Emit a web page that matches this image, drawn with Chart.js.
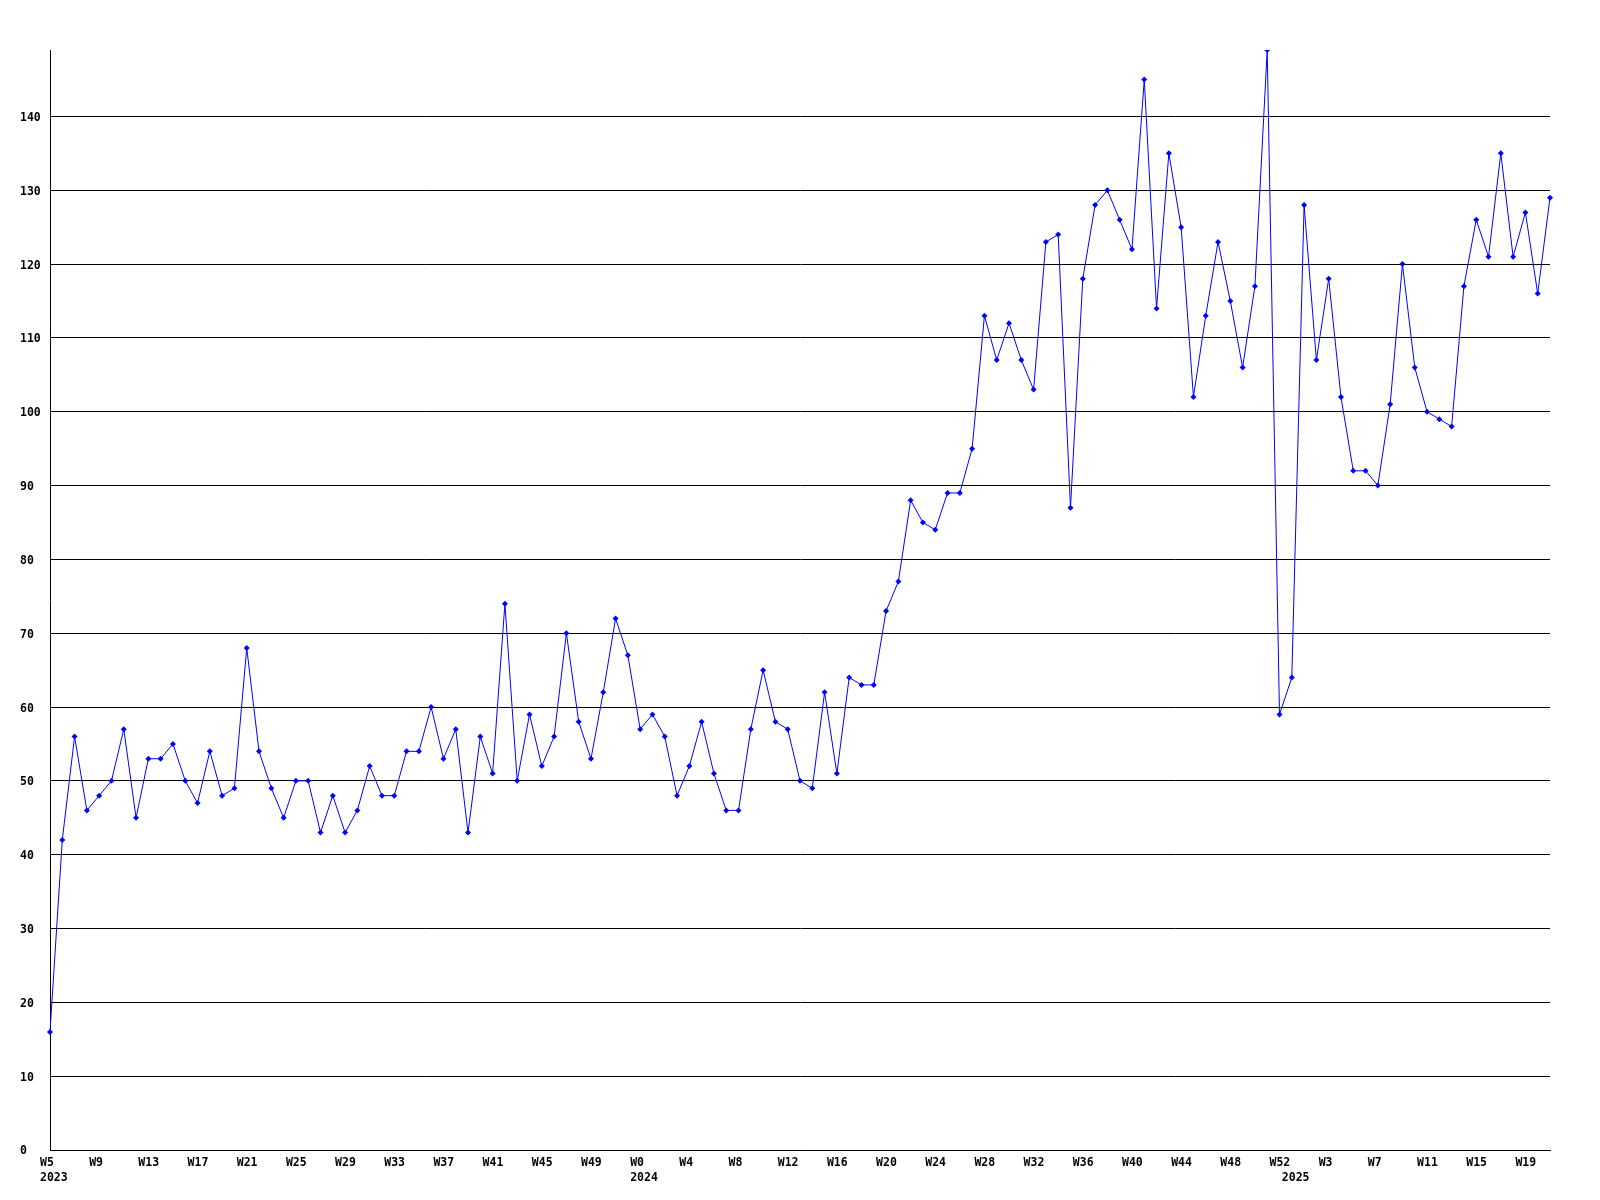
<!DOCTYPE html>
<html>
<head>
<meta charset="utf-8">
<script src="https://cdn.jsdelivr.net/npm/chart.js@4/dist/chart.umd.min.js"></script>
<style>
  html, body { margin: 0; padding: 0; background: #ffffff; }
  #c { display: block; }
</style>
</head>
<body>
<canvas id="c" width="1600" height="1200"></canvas>
<script>
// Week numbers per year (categories)
const weeks2023 = [5,6,7,8,9,10,11,12,13,14,15,16,17,18,19,20,21,22,23,24,25,26,27,28,29,30,31,32,33,34,35,36,37,38,39,40,41,42,43,44,45,46,47,48,49,50,51,52];
const weeks2024 = [0,1,2,3,4,5,6,7,8,9,10,11,12,13,14,15,16,17,18,19,20,21,22,23,24,25,26,27,28,29,30,31,32,33,34,35,36,37,38,39,40,41,42,43,44,45,46,47,48,49,50,51,52];
const weeks2025 = [0,1,2,3,4,5,6,7,8,9,10,11,12,13,14,15,16,17,18,19,20,21];

// Series values per year
const values2023 = [16,42,56,46,48,50,57,45,53,53,55,50,47,54,48,49,68,54,49,45,50,50,43,48,43,46,52,48,48,54,54,60,53,57,43,56,51,74,50,59,52,56,70,58,53,62,72,67];
const values2024 = [57,59,56,48,52,58,51,46,46,57,65,58,57,50,49,62,51,64,63,63,73,77,88,85,84,89,89,95,113,107,112,107,103,123,124,87,118,128,130,126,122,145,114,135,125,102,113,123,115,106,117,149,59];
const values2025 = [64,128,107,118,102,92,92,90,101,120,106,100,99,98,117,126,121,135,121,127,116,129];

// Y tick values
const yTicks = [0,10,20,30,40,50,60,70,80,90,100,110,120,130,140];
const yMax = 149;

const years = [
  { year: '2023', weeks: weeks2023, values: values2023 },
  { year: '2024', weeks: weeks2024, values: values2024 },
  { year: '2025', weeks: weeks2025, values: values2025 }
];

const labels = [];
const yearLabel = [];
const data = [];
years.forEach(y => {
  y.weeks.forEach((w, i) => {
    labels.push('W' + w);
    yearLabel.push(i === 0 ? y.year : '');
    data.push(y.values[i]);
  });
});

const FONT = { family: '"DejaVu Sans Mono", "Liberation Mono", monospace', size: 11.5, weight: 'bold', lineHeight: 1.3 };

new Chart(document.getElementById('c'), {
  type: 'line',
  data: {
    labels: labels,
    datasets: [{
      data: data,
      borderColor: '#0000ff',
      backgroundColor: '#0000ff',
      borderWidth: 1,
      tension: 0,
      pointStyle: 'rectRot',
      pointRadius: 3,
      pointBorderWidth: 0,
      pointBackgroundColor: '#0000ff',
      fill: false
    }]
  },
  options: {
    responsive: false,
    animation: false,
    devicePixelRatio: 1,
    layout: { padding: { left: 20, top: 50, right: 50, bottom: 0 } },
    plugins: {
      legend: { display: false },
      tooltip: { enabled: false },
      title: { display: false }
    },
    scales: {
      x: {
        type: 'category',
        offset: false,
        grid: { display: false, drawTicks: false },
        border: { display: true, color: '#000000', width: 1 },
        afterFit: s => { s.height = 50; },
        ticks: {
          autoSkip: false,
          maxRotation: 0,
          minRotation: 0,
          align: 'start',
          labelOffset: -10,
          padding: 6,
          color: '#000000',
          font: FONT,
          callback: function (value, index) {
            const wk = index % 4 === 0 ? labels[index] : '';
            const yr = yearLabel[index];
            if (yr) return [wk, yr];
            return wk;
          }
        }
      },
      y: {
        min: 0,
        max: yMax,
        afterFit: s => { s.width = 30; },
        afterBuildTicks: s => { s.ticks = yTicks.map(v => ({ value: v })); },
        grid: { color: '#000000', lineWidth: 1, drawTicks: false },
        border: { display: true, color: '#000000', width: 1 },
        ticks: {
          crossAlign: 'far',
          padding: 0,
          labelOffset: 1.5,
          color: '#000000',
          font: FONT,
          includeBounds: false
        }
      }
    }
  }
});
</script>
</body>
</html>
